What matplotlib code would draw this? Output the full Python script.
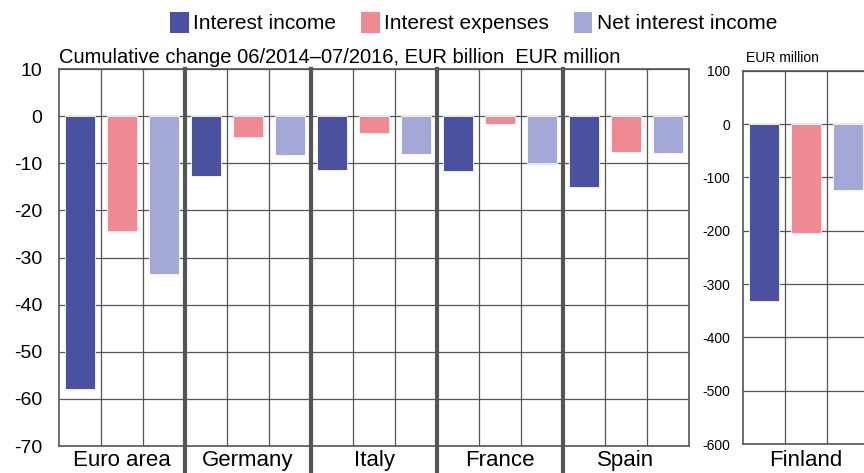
import matplotlib.pyplot as plt
import numpy as np
from matplotlib.patches import Patch

countries = ['Euro area', 'Germany', 'Italy', 'France', 'Spain']
income = [-57.8, -12.6, -11.4, -11.6, -15.0]
expenses = [-24.4, -4.5, -3.6, -1.7, -7.6]
net = [-33.5, -8.3, -8.1, -10.0, -7.9]

fin_label = 'Finland'
fin_values = [-331, -205, -124]

series_names = ['Interest income', 'Interest expenses', 'Net interest income']
colors = ['#4a52a0', '#f08a92', '#a3a8d6']

plt.rcParams['font.family'] = ['Liberation Sans', 'DejaVu Sans']
plt.rcParams['axes.unicode_minus'] = False

grid_c = '#555555'

fig = plt.figure(figsize=(8.64, 4.73), dpi=100)
ax = fig.add_axes([59/864, 1-446/473, 630/864, 377/473])
ax2 = fig.add_axes([743/864, 1-444/473, 126/864, 373.3/473])

# left panel
n = len(countries)
for k, vals in enumerate([income, expenses, net]):
    x = np.arange(n) * 3 + k
    ax.bar(x, vals, width=0.7, color=colors[k], edgecolor='white', linewidth=0.6, zorder=3)

ax.set_xlim(-0.5, 3 * n - 0.5)
ax.set_ylim(-70, 10)
ax.set_yticks(np.arange(-70, 11, 10))
ax.grid(axis='y', color=grid_c, linewidth=0.9, zorder=1)
for xv in np.arange(0.5, 3 * n - 1, 1):
    if (xv + 0.5) % 3 == 0:
        ax.axvline(xv, ymin=-0.075, ymax=1, color=grid_c, linewidth=3, clip_on=False, zorder=4)
    else:
        ax.axvline(xv, color=grid_c, linewidth=0.9, zorder=1)
ax.set_xticks(np.arange(n) * 3 + 1)
ax.set_xticklabels(countries, fontsize=16)
ax.tick_params(axis='x', length=0, pad=3)
ax.tick_params(axis='y', length=0, labelsize=14, pad=12)
for s in ax.spines.values():
    s.set_color(grid_c)
    s.set_linewidth(1.2)
ax.text(0, 1.005, 'Cumulative change 06/2014\u201307/2016, EUR billion  EUR million',
        transform=ax.transAxes, fontsize=14.5, va='bottom')

# right panel
ax2.bar(np.arange(3), fin_values, width=0.7, color=colors, edgecolor='white', linewidth=0.6, zorder=3)
ax2.set_xlim(-0.5, 2.5)
ax2.set_ylim(-600, 100)
ax2.set_yticks(np.arange(-600, 101, 100))
ax2.grid(axis='y', color=grid_c, linewidth=0.9, zorder=1)
for xv in [0.5, 1.5]:
    ax2.axvline(xv, color=grid_c, linewidth=0.9, zorder=1)
ax2.set_xticks([1])
ax2.set_xticklabels([fin_label], fontsize=16)
ax2.tick_params(axis='x', length=0, pad=4)
ax2.tick_params(axis='y', length=0, labelsize=10, pad=9)
for s in ax2.spines.values():
    s.set_color(grid_c)
    s.set_linewidth(1.2)
ax2.text(0.02, 1.015, 'EUR million', transform=ax2.transAxes, fontsize=10, va='bottom')

handles = [Patch(facecolor=c) for c in colors]
fig.legend(handles, series_names, loc='upper center', bbox_to_anchor=(0.548, 1.015),
           ncol=3, frameon=False, handlelength=0.9, handleheight=1.2, handletextpad=0.2,
           columnspacing=1.2, prop={'size': 15})

fig.savefig('out.png', dpi=100)
